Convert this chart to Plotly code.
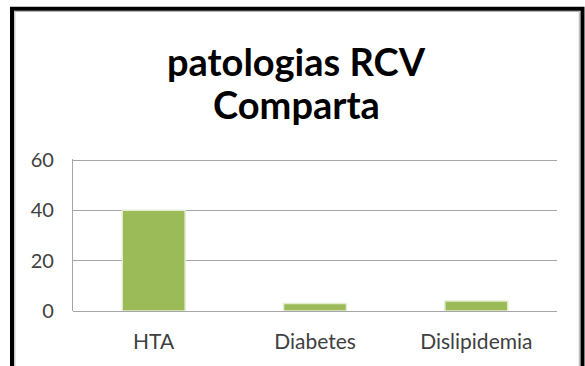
import plotly.graph_objects as go

# Pathology counts
categories = ["HTA", "Diabetes", "Dislipidemia"]
values = [40, 3, 4]
y_ticks = [0, 20, 40, 60]
y_max = 60.4

W, H = 585, 366
# plot-area pixel box (60 gridline sits at y=160, zero at y=310.7)
L, R, B = 73, 557, 310.7
px_per_unit = (310.7 - 160) / 60
T = B - y_max * px_per_unit
pw, ph = R - L, B - T


def px_x(x):
    return (x - L) / pw


def px_y(y):
    return (B - y) / ph


fig = go.Figure(
    go.Bar(
        x=categories,
        y=values,
        marker=dict(color="#9BBB59", line=dict(color="#E4EED2", width=1.5)),
        width=0.39,
    )
)

fig.update_layout(
    width=W,
    height=H,
    margin=dict(l=L, r=W - R, t=T, b=H - B, pad=0),
    paper_bgcolor="white",
    plot_bgcolor="white",
    showlegend=False,
    font=dict(family="Lato", color="#404040"),
    xaxis=dict(
        showgrid=False,
        showline=False,
        ticks="",
        tickfont=dict(size=21, color="#404040"),
        ticklabelstandoff=16,
    ),
    yaxis=dict(
        range=[0, y_max],
        tickvals=y_ticks,
        showgrid=True,
        gridcolor="#A6A6A6",
        gridwidth=1.3,
        zeroline=True,
        zerolinecolor="#A6A6A6",
        zerolinewidth=1.3,
        showline=True,
        linecolor="#A6A6A6",
        linewidth=1.3,
        ticks="",
        tickfont=dict(size=20, color="#404040"),
        ticklabelstandoff=14,
    ),
    shapes=[
        # outer frame
        dict(type="rect", xref="paper", yref="paper",
             x0=px_x(12), x1=px_x(582.5), y0=px_y(380), y1=px_y(9),
             line=dict(color="black", width=4)),
        dict(type="rect", xref="paper", yref="paper",
             x0=px_x(14.8), x1=px_x(579.3), y0=px_y(380), y1=px_y(11.8),
             line=dict(color="#B0B0B0", width=1)),
    ],
    annotations=[
        dict(text="<b>patologias RCV</b>", xref="paper", yref="paper",
             x=px_x(296), y=px_y(61), xanchor="center", yanchor="middle",
             showarrow=False, font=dict(family="Lato", size=38, color="black")),
        dict(text="<b>Comparta</b>", xref="paper", yref="paper",
             x=px_x(296), y=px_y(104), xanchor="center", yanchor="middle",
             showarrow=False, font=dict(family="Lato", size=38, color="black")),
    ],
)

fig.write_html("out.html")
